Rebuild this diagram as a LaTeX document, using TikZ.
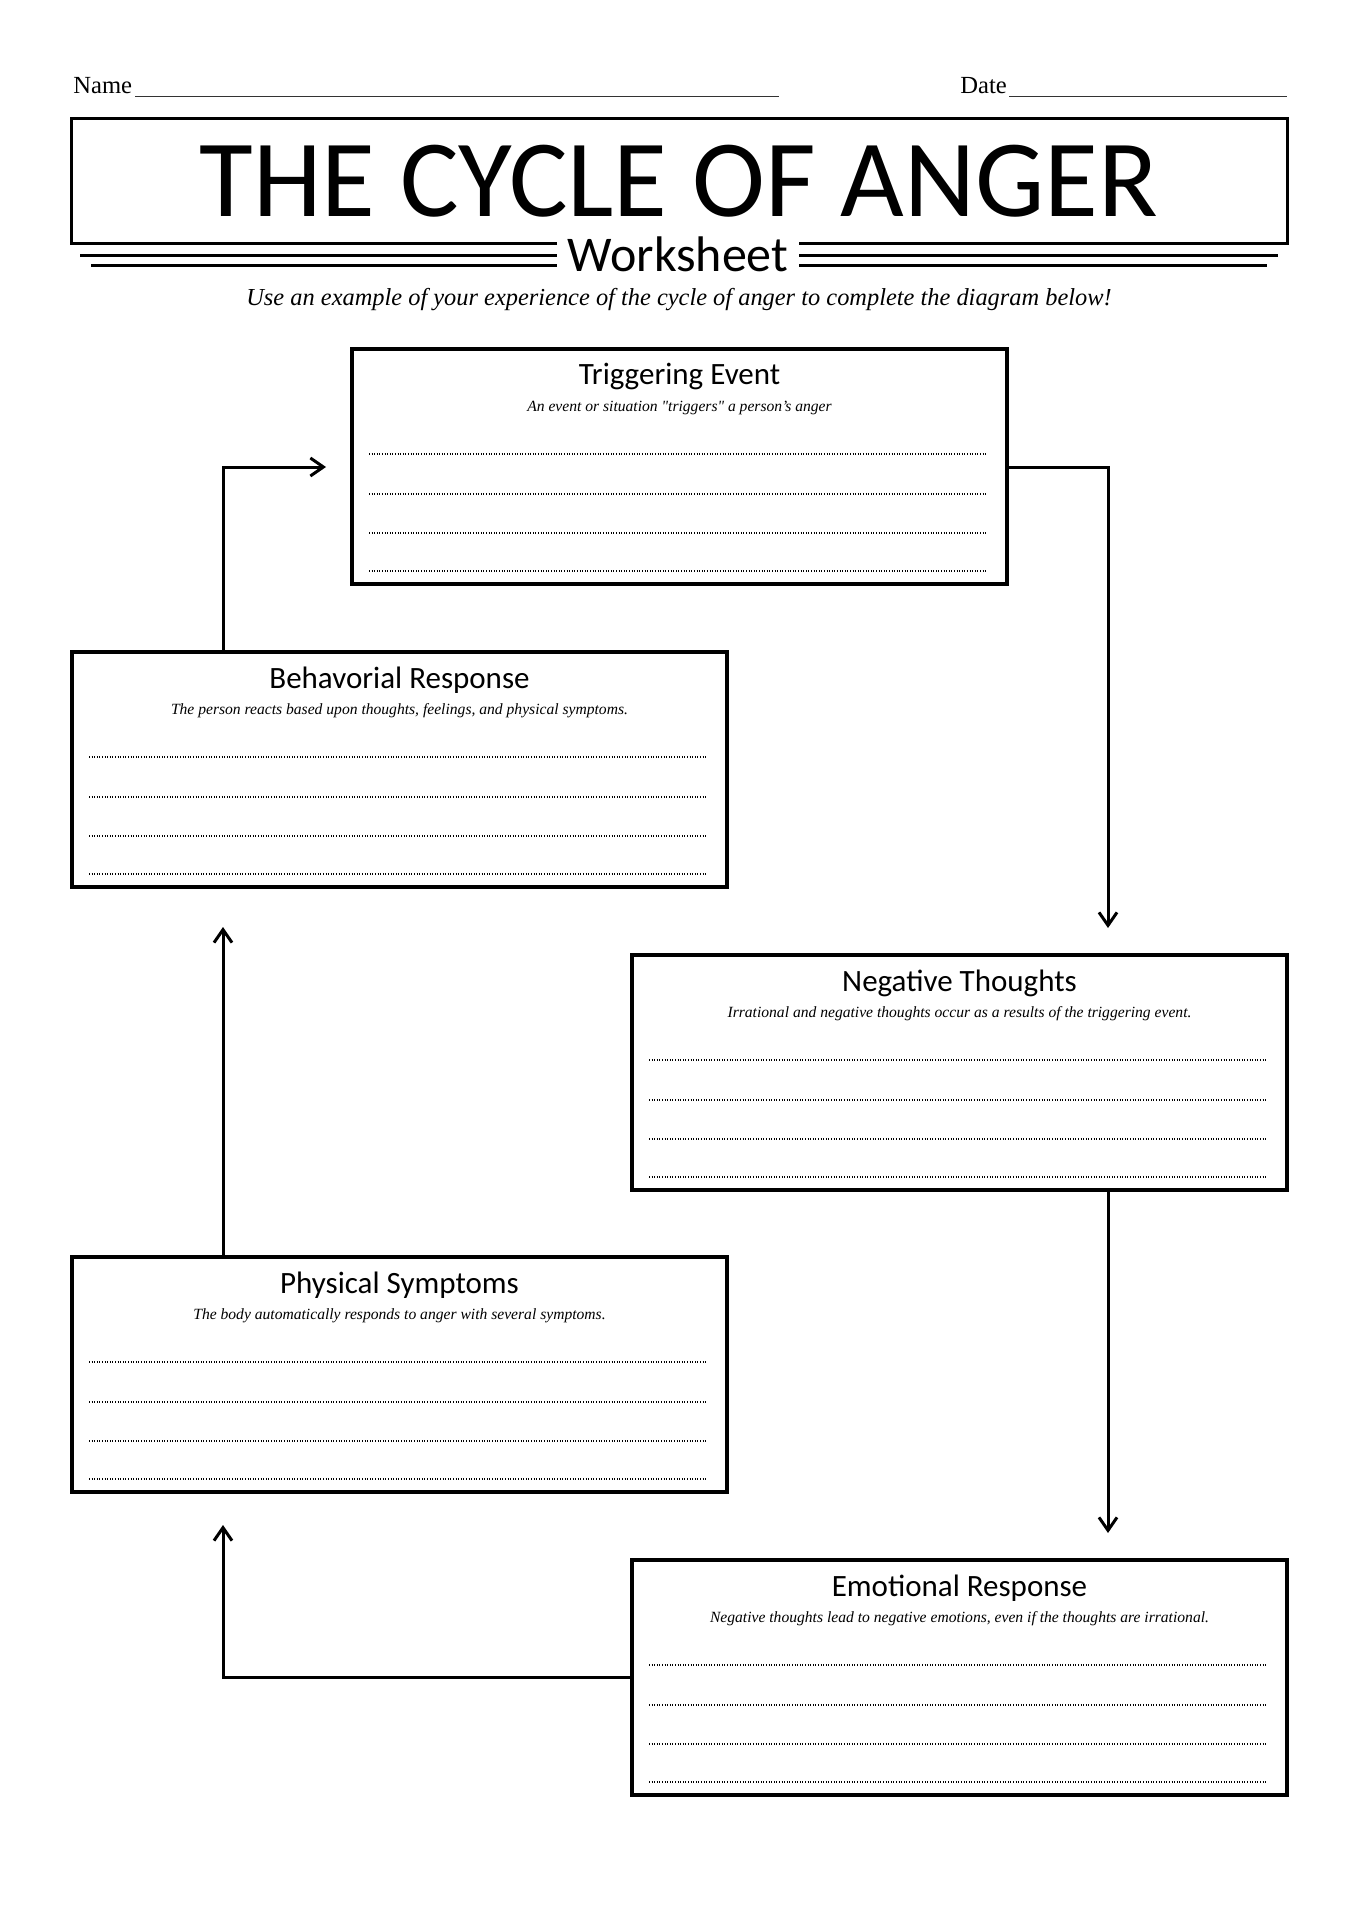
\documentclass[tikz,border=0pt]{standalone}
\usepackage{fontspec}
\setmainfont{Liberation Serif}
\newfontfamily\hdfont{Carlito}
\newfontfamily\descfont{Liberation Serif}[Ligatures=TeXOff]
\usetikzlibrary{arrows.meta,calc}
\tikzset{
  cabox/.style={draw, line width=1.75pt, inner sep=0pt, outer sep=0pt,
    minimum width=327.5pt, minimum height=117.5pt, anchor=north west},
  boxtitle/.style={anchor=base, inner sep=0pt, font=\hdfont\fontsize{15.5}{18}\selectfont},
  boxdesc/.style={anchor=base, inner sep=0pt, font=\descfont\itshape\fontsize{7.8}{9}\selectfont},
  dotline/.style={line width=0.6pt, dash pattern=on 0.5pt off 0.8pt},
  arr/.style={line width=1.5pt, -{Straight Barb[length=6.5pt,width=9pt]}},
  hline/.style={line width=1.5pt},
  uline/.style={line width=0.4pt, black!80},
}
\newcommand\wbox[5]{%
  \node[cabox] (#1) at (#2,#3) {};
  \node[boxtitle] (#1-t) at ($(#1.north)+(0,36)$) {#4};
  \node[boxdesc] (#1-d) at ($(#1.north)+(0,62)$) {#5};
  \foreach \yy in {105,145,184,222}{%
    \draw[dotline] ($(#1.north west)+(17,\yy)$) -- ($(#1.north east)+(-20,\yy)$);}%
}
\begin{document}
\begin{tikzpicture}[x=0.5pt,y=-0.5pt]
\useasboundingbox[fill=white] (0,0) rectangle (1358,1920);

% header
\node[anchor=base west, inner sep=0pt, font=\fontsize{12.3}{14}\selectfont] (name) at (73,94) {Name};
\coordinate (namestart) at (135,96);
\coordinate (nameend) at (779,96);
\draw[uline] (namestart) -- (nameend);
\node[anchor=base west, inner sep=0pt, font=\fontsize{12.3}{14}\selectfont] (date) at (960,94) {Date};
\coordinate (datestart) at (1009,96);
\coordinate (dateend) at (1287,96);
\draw[uline] (datestart) -- (dateend);

\draw[hline] (557,244) -- (71,244) -- (71,119) -- (1287,119) -- (1287,244) -- (799,244);
\node[anchor=base, inner sep=0pt, text depth=0pt, font=\hdfont\fontsize{55}{60}\selectfont] (title) at (679,217) {THE CYCLE OF ANGER};
\node[anchor=base, inner sep=0pt, font=\hdfont\fontsize{25}{30}\selectfont] (ws) at (678,272) {Worksheet};
\draw[hline] (80,256) -- (557,256);
\draw[hline] (91,266) -- (557,266);
\draw[hline] (799,256) -- (1278,256);
\draw[hline] (799,266) -- (1267,266);
\node[anchor=base, inner sep=0pt, font=\itshape\fontsize{12.2}{14}\selectfont] (sub) at (679,306)
  {Use an example of your experience of the cycle of anger to complete the diagram below!};

% boxes
\wbox{trig}{352}{349}{Triggering Event}{An event or situation "triggers" a person’s anger}
\wbox{behav}{72}{652}{Behavorial Response}{The person reacts based upon thoughts, feelings, and physical symptoms.}
\wbox{neg}{632}{955}{Negative Thoughts}{Irrational and negative thoughts occur as a results of the triggering event.}
\wbox{phys}{72}{1257}{Physical Symptoms}{The body automatically responds to anger with several symptoms.}
\wbox{emot}{632}{1560}{Emotional Response}{Negative thoughts lead to negative emotions, even if the thoughts are irrational.}

% connectors
\coordinate (c1) at (223,467);
\coordinate (a1) at (326,467);
\draw[arr] (behav.north -| c1) -- (c1) -- (a1);
\coordinate (c2) at (1108,467);
\coordinate (a2) at (1108,928);
\draw[arr] (trig.east |- c2) -- (c2) -- (a2);
\coordinate (a3) at (1108,1533);
\draw[arr] (neg.south -| c2) -- (a3);
\coordinate (c4) at (223,1677);
\coordinate (a4) at (223,1525);
\draw[arr] (emot.west |- c4) -- (c4) -- (a4);
\coordinate (a5) at (223,927);
\draw[arr] (phys.north -| c1) -- (a5);
\end{tikzpicture}
\end{document}
